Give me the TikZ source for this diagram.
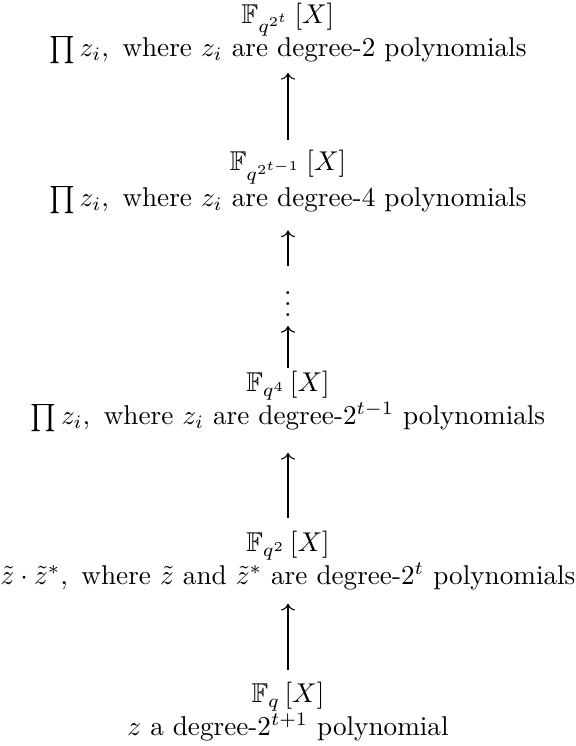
\documentclass[tikz,border=0pt]{standalone}
\usepackage{amsmath,amssymb}
\usetikzlibrary{arrows.meta}
\begin{document}
\begin{tikzpicture}[x=0.368pt,y=0.368pt,
  lbl/.style={align=center, inner sep=0pt, anchor=north},
  arr/.style={-{Computer Modern Rightarrow}, line width=0.4pt}]
\useasboundingbox (-288,0) rectangle (288,-746);
\node[lbl] (n1) at (0,-3) {$\mathbb{F}_{q^{2^t}}\left[X\right]$\\ $\prod z_i, \text{ where } z_i \text{ are degree-2 polynomials}$};
\node[lbl] (n2) at (0,-150) {$\mathbb{F}_{q^{2^{t-1}}}\left[X\right]$\\ $\prod z_i, \text{ where } z_i \text{ are degree-4 polynomials}$};
\node[inner sep=0pt, anchor=south] (dots) at (0,-317) {$\vdots$};
\node[lbl] (n3) at (0,-371) {$\mathbb{F}_{q^4}\left[X\right]$\\ $\prod z_i, \text{ where } z_i \text{ are degree-}2^{t-1}\text{ polynomials}$};
\node[lbl] (n4) at (0,-531) {$\mathbb{F}_{q^2}\left[X\right]$\\ $\tilde z\cdot\tilde z^*, \text{ where } \tilde z \text{ and } \tilde z^* \text{ are degree-}2^t\text{ polynomials}$};
\node[lbl] (n5) at (0,-682) {$\mathbb{F}_{q}\left[X\right]$\\ $z \text{ a degree-}2^{t+1}\text{ polynomial}$};
\draw[arr, shorten <=3.7pt, shorten >=3.3pt] (n2) -- (n1);
\draw[arr, shorten <=3.3pt, shorten >=6pt] (dots) -- (n2);
\draw[arr, shorten <=1.1pt, shorten >=3.3pt] (n3) -- (dots);
\draw[arr, shorten <=4.8pt, shorten >=7.7pt] (n4) -- (n3);
\draw[arr, shorten <=4.4pt, shorten >=4.8pt] (n5) -- (n4);
\end{tikzpicture}
\end{document}
